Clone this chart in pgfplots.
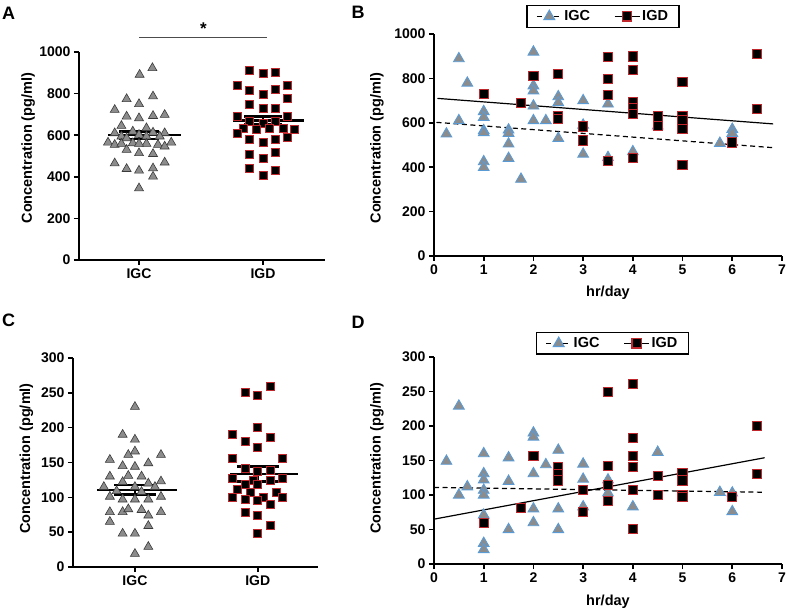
\documentclass[border=0pt]{standalone}
\usepackage{pgfplots}
\pgfplotsset{compat=1.18}
\usepackage{fontspec}
\setmainfont{Liberation Sans}
\definecolor{trigray}{HTML}{8C8C8C}
\definecolor{triedge}{HTML}{3A3A3A}
\definecolor{blueedge}{HTML}{5B9BD5}
\definecolor{rededge}{HTML}{C0272D}
\tikzset{lbl/.style={font=\fontsize{14.5}{15}\selectfont\bfseries},
  mydash/.style={dash pattern=on 5pt off 3.5pt}}
\pgfplotsset{
  base/.style={
    scale only axis,
    anchor=south west,
    axis x line*=bottom, axis y line*=left,
    axis line style={line width=2pt, -},
    tick align=outside,
    major tick length=5pt,
    tick style={line width=1.6pt, black},
    every tick label/.append style={font=\fontsize{14}{14}\selectfont\bfseries},
    /pgf/number format/assume math mode=true,
    /pgf/number format/1000 sep={},
    clip=false,
    ylabel={Concentration (pg/ml)},
    legend image code/.code={\draw[mark repeat=2,mark phase=2,##1] plot coordinates {(0pt,0pt) (12.5pt,0pt) (25pt,0pt)};},
    legend style={draw=black, line width=1.5pt, font=\fontsize{14.5}{14.5}\selectfont\bfseries, legend columns=2,
      /tikz/every even column/.append style={column sep=22pt}, inner xsep=9pt, inner ysep=3pt},
  },
  igcA/.style={only marks, mark=triangle*, mark size=5.2pt, mark options={fill=trigray, draw=triedge, line width=0.6pt}},
  igdA/.style={only marks, mark=square*, mark size=4pt, mark options={fill=black, draw=rededge, line width=0.8pt}},
  igcB/.style={only marks, mark=triangle*, mark size=6.2pt, mark options={fill=trigray, draw=blueedge, line width=0.9pt}},
  igdB/.style={only marks, mark=square*, mark size=4.6pt, mark options={fill=black, draw=rededge, line width=1pt}},
  meanl/.style={black, line width=2.4pt, forget plot},
}
\pgfplotstableread{
x y
1.108 923
1.005 891
1.113 787
0.90 774
1.0 750
0.804 722
1.207 698
0.90 690
1.0 682
1.113 693
0.858 645
1.06 634
0.804 610
0.95 618
1.113 613
1.207 610
0.858 594
1.0 602
1.06 594
0.90 586
0.75 565
1.26 565
0.804 554
0.95 562
1.06 559
1.153 554
0.858 559
1.0 559
0.90 530
1.0 514
1.113 510
1.207 546
0.804 465
1.207 469
0.90 438
1.0 430
1.113 441
1.113 401
1.0 345
1.167 594
}\AigC
\pgfplotstableread{
x y
1.892 912
2.0 896
2.102 902
1.79 838
1.892 815
2.0 798
2.102 819
2.2 838
2.2 777
1.892 746
2.0 730
2.102 730
1.79 690
2.2 690
1.892 666
2.0 658
2.102 666
1.839 634
1.946 629
2.054 634
2.161 634
2.255 629
1.79 610
1.892 578
2.0 565
2.102 578
2.2 589
1.892 510
2.102 518
2.0 490
1.892 438
2.102 429
2.0 409
}\AigD
\pgfplotstableread{
x y
1.0 230
0.9 190
1.0 183
0.946 161
1.0 166
1.212 161
0.796 154
0.9 145
1.0 144
1.109 149
0.796 130
0.946 131
1.054 130
1.212 123
0.747 115
0.9 122
1.109 120
0.851 109
1.0 115
1.054 108
0.796 101
0.9 97
1.0 97
1.109 97
1.212 101
0.796 79
0.9 79
0.946 83
1.054 82
1.109 74
1.212 79
0.796 65
0.9 48
1.0 48
1.109 59
1.109 29
1.0 19
1.163 115
}\CigC
\pgfplotstableread{
x y
1.897 250
2.0 247
2.1 259
2.0 200
1.793 190
1.897 180
2.1 186
2.0 171
1.793 156
2.204 156
1.897 142
2.0 137
2.1 138
1.793 127
2.204 127
1.965 125
2.1 124
1.897 119
2.0 119
1.834 111
1.938 107
2.155 107
1.793 100
1.897 97
2.046 100
2.0 95
2.1 90
2.204 100
1.897 79
2.0 74
2.1 59
2.0 48
}\CigD
\pgfplotstableread{
x y
0.25 550
0.5 889
0.5 610
0.67 779
1 651
1 625
1 565
1 556
1 425
1 399
1.5 568
1.5 553
1.5 505
1.5 440
1.75 346
2 919
2 767
2 744
2 676
2 610
2.25 610
2.5 718
2.5 691
2.5 530
3 700
3 590
3 459
3.5 685
3.5 444
4 470
4.5 586
5.75 508
6 571
6 553
}\BigC
\pgfplotstableread{
x y
1 729
1.75 688
2 812
2.5 821
2.5 631
2.5 616
3 583
3 520
3.5 895
3.5 798
3.5 726
3.5 429
4 899
4 839
4 691
4 666
4 640
4 440
4.5 628
4.5 586
5 782
5 631
5 610
5 571
5 410
6 511
6.5 910
6.5 661
}\BigD
\pgfplotstableread{
x y
0.25 149
0.5 229
0.5 100
0.67 112
1 160
1 131
1 122
1 107
1 100
1 71
1 30
1 21
1.5 154
1.5 120
1.5 50
2 190
2 184
2 131
2 80
2 60
2.25 144
2.5 165
2.5 80
2.5 50
3 145
3 123
3 83
3.5 122
3.5 103
4 83
4.5 162
5.75 104
6 103
6 76
}\DigC
\pgfplotstableread{
x y
1 60
1.75 81
2 157
2.5 141
2.5 131
2.5 121
3 107
3 75
3.5 249
3.5 142
3.5 114
3.5 91
4 261
4 183
4 157
4 141
4 107
4 51
4.5 127
4.5 100
5 132
5 121
5 100
5 97
6 97
6.5 200
6.5 131
}\DigD
\begin{document}
\begin{tikzpicture}
\path[use as bounding box] (0pt,0pt) rectangle (787pt,611pt);
\node[font=\fontsize{18}{18}\selectfont\bfseries] at (8.5pt,597.5pt) {A};
\node[font=\fontsize{18}{18}\selectfont\bfseries] at (358pt,598.5pt) {B};
\node[font=\fontsize{18}{18}\selectfont\bfseries] at (8.5pt,290.5pt) {C};
\node[font=\fontsize{18}{18}\selectfont\bfseries] at (358pt,288.5pt) {D};
% Panel A
\begin{axis}[base, at={(79pt,351pt)}, width=246pt, height=208pt,
  xmin=0.516, xmax=2.5, ymin=0, ymax=1000, ytick={0,200,...,1000},
  xtick={1,2}, xticklabels={IGC,IGD},
  every axis y label/.style={at={(axis description cs:-0.207,0.538)}, rotate=90, anchor=center, lbl}]
\addplot[igcA] table {\AigC};
\addplot[igdA] table {\AigD};
\addplot[meanl] coordinates {(0.75,600) (1.34,600)};
\addplot[meanl] coordinates {(0.84,618) (1.16,618)};
\addplot[meanl] coordinates {(0.84,582) (1.16,582)};
\addplot[meanl] coordinates {(1,582) (1,618)};
\addplot[meanl] coordinates {(1.76,671) (2.33,671)};
\addplot[meanl] coordinates {(1.85,690) (2.15,690)};
\addplot[meanl] coordinates {(1.85,652) (2.15,652)};
\addplot[meanl] coordinates {(2,652) (2,690)};
\addplot[gray!60!black, line width=1.4pt, forget plot] coordinates {(1.0,1069) (2.03,1069)};
\node[font=\fontsize{17}{17}\selectfont\bfseries] at (axis cs:1.52,1112) {*};
\end{axis}
% Panel B
\begin{axis}[base, at={(434pt,355pt)}, width=348pt, height=222pt,
  xmin=0, xmax=7, ymin=0, ymax=1000, ytick={0,200,...,1000}, xtick={0,1,...,7},
  xlabel={hr/day},
  every axis y label/.style={at={(axis description cs:-0.164,0.486)}, rotate=90, anchor=center, lbl},
  every axis x label/.style={at={(axis description cs:0.5,-0.167)}, anchor=center, lbl},
  legend style={at={(axis description cs:0.486,1.027)}, anchor=south}]
\addlegendimage{black, mydash, line width=1.1pt, mark=triangle*, mark size=6.2pt, mark options={solid, fill=trigray, draw=blueedge}}
\addlegendentry{IGC}
\addlegendimage{black, line width=1.1pt, mark=square*, mark size=4.6pt, mark options={solid, fill=black, draw=rededge}}
\addlegendentry{IGD}
\addplot[black, line width=1.2pt, forget plot] coordinates {(0.07,710) (6.82,595)};
\addplot[black, mydash, line width=1.2pt, forget plot] coordinates {(0.05,602) (6.82,488)};
\addplot[igcB, forget plot] table {\BigC};
\addplot[igdB, forget plot] table {\BigD};
\end{axis}
% Panel C
\begin{axis}[base, at={(73pt,44pt)}, width=245pt, height=209pt,
  xmin=0.496, xmax=2.49, ymin=0, ymax=300, ytick={0,50,...,300},
  xtick={1,2}, xticklabels={IGC,IGD},
  every axis y label/.style={at={(axis description cs:-0.19,0.519)}, rotate=90, anchor=center, lbl}]
\addplot[igcA] table {\CigC};
\addplot[igdA] table {\CigD};
\addplot[meanl] coordinates {(0.69,110.5) (1.34,110.5)};
\addplot[meanl] coordinates {(0.83,117.5) (1.17,117.5)};
\addplot[meanl] coordinates {(0.83,104) (1.17,104)};
\addplot[meanl] coordinates {(1,104) (1,117.5)};
\addplot[meanl] coordinates {(1.775,133.5) (2.33,133.5)};
\addplot[meanl] coordinates {(1.83,144) (2.17,144)};
\addplot[meanl] coordinates {(1.83,123) (2.17,123)};
\addplot[meanl] coordinates {(2,123) (2,144)};
\end{axis}
% Panel D
\begin{axis}[base, at={(434pt,47pt)}, width=348pt, height=207pt,
  xmin=0, xmax=7, ymin=0, ymax=300, ytick={0,50,...,300}, xtick={0,1,...,7},
  xlabel={hr/day},
  every axis y label/.style={at={(axis description cs:-0.164,0.51)}, rotate=90, anchor=center, lbl},
  every axis x label/.style={at={(axis description cs:0.5,-0.184)}, anchor=center, lbl},
  legend style={at={(axis description cs:0.513,1.01)}, anchor=south}]
\addlegendimage{black, mydash, line width=1.1pt, mark=triangle*, mark size=6.2pt, mark options={solid, fill=trigray, draw=blueedge}}
\addlegendentry{IGC}
\addlegendimage{black, line width=1.1pt, mark=square*, mark size=4.6pt, mark options={solid, fill=black, draw=rededge}}
\addlegendentry{IGD}
\addplot[black, line width=1.2pt, forget plot] coordinates {(0,65) (6.65,154)};
\addplot[black, mydash, line width=1.2pt, forget plot] coordinates {(0,111) (6.65,104)};
\addplot[igcB, forget plot] table {\DigC};
\addplot[igdB, forget plot] table {\DigD};
\end{axis}
\end{tikzpicture}
\end{document}
